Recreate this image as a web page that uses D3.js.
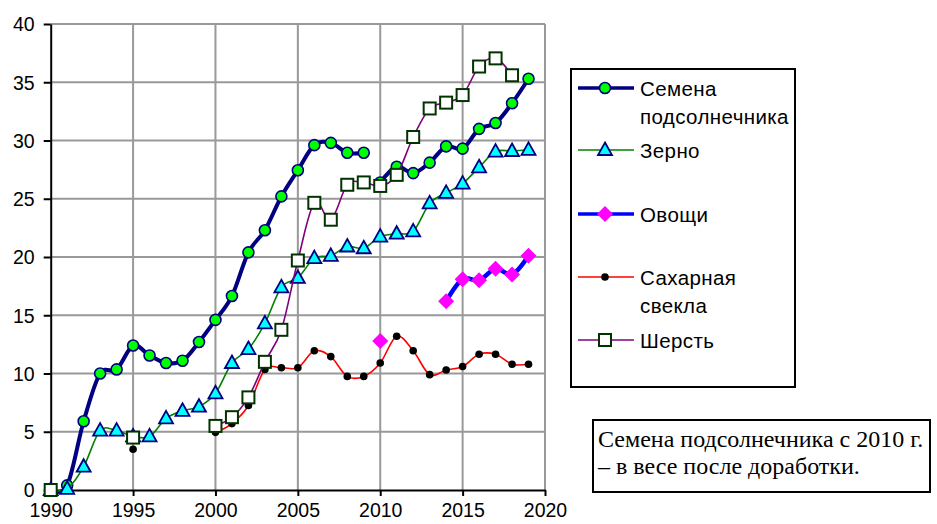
<!DOCTYPE html>
<meta charset="utf-8">
<style>
body { margin: 0; background: #fff; }
.tick text { font-family: "Liberation Sans", Arial, sans-serif; font-size: 19.5px; fill: #000; }
.legtext { font-family: "Liberation Sans", Arial, sans-serif; font-size: 20.5px; letter-spacing: 0.4px; fill: #000; }
.note { font-family: "Liberation Serif", "Times New Roman", serif; font-size: 24px; fill: #000; }
</style>
<svg width="937" height="524"></svg>
<script src="https://cdn.jsdelivr.net/npm/d3@7"></script>
<script>

var years = d3.range(1990, 2020);

// null = no value for that year
var sunflower = [0, 0.4, 5.9, 10.0, 10.35, 12.4, 11.55, 10.9, 11.1, 12.7,
                 14.6, 16.65, 20.4, 22.3, 25.2, 27.45, 29.6, 29.8, 28.95, 28.95,
                 null, null, null, null, null, null, null, null, null, null];
// after 2010 - weight after processing
var sunflower2 = [null, null, null, null, null, null, null, null, null, null,
                  null, null, null, null, null, null, null, null, null, null,
                  26.4, 27.75, 27.2, 28.1, 29.5, 29.3, 31.0, 31.5, 33.2, 35.3];
var grain = [0, 0.1, 2.0, 5.1, 5.1, 4.6, 4.6, 6.15, 6.8, 7.15,
             8.3, 10.9, 12.1, 14.3, 17.4, 18.2, 19.9, 20.1, 20.9, 20.75,
             21.75, 22.0, 22.2, 24.6, 25.5, 26.3, 27.7, 29.05, 29.1, 29.2];
var vegetables = [null, null, null, null, null, null, null, null, null, null,
                  null, null, null, null, null, null, null, null, null, null,
                  12.8, null, null, null, 16.2, 18.1, 18.0, 19.0, 18.5, 20.1];
var sugarbeet = [null, null, null, null, null, 3.5, null, null, null, null,
                 4.95, 5.7, 7.25, 10.35, 10.5, 10.5, 11.95, 11.45, 9.75, 9.75,
                 10.9, 13.2, 11.95, 9.9, 10.3, 10.6, 11.65, 11.65, 10.8, 10.8];
var wool = [0, null, null, null, null, 4.5, null, null, null, null,
            5.5, 6.25, 7.95, 11.0, 13.75, 19.7, 24.65, 23.2, 26.2, 26.4,
            26.1, 27.05, 30.3, 32.75, 33.25, 33.9, 36.35, 37.05, 35.6, null];

var xTicks = [1990, 1995, 2000, 2005, 2010, 2015, 2020];
var yTicks = [0, 5, 10, 15, 20, 25, 30, 35, 40];

var legendNames = [["Семена", "подсолнечника"], ["Зерно"], ["Овощи"], ["Сахарная", "свекла"], ["Шерсть"]];
var noteLines = ["Семена подсолнечника с 2010 г.", "– в весе после доработки."];

var svg = d3.select("svg");

var x = d3.scaleLinear().domain([1990, 2020]).range([50.7, 545]);
var y = d3.scaleLinear().domain([0, 40]).range([490, 24]);

// grid
svg.append("g")
    .selectAll("line.v")
    .data(xTicks.slice(1))
    .enter().append("line")
    .attr("x1", function(d) { return x(d); })
    .attr("x2", function(d) { return x(d); })
    .attr("y1", y(0)).attr("y2", y(40))
    .attr("stroke", "#999").attr("stroke-width", 2);
svg.append("g")
    .selectAll("line.h")
    .data(yTicks.slice(1))
    .enter().append("line")
    .attr("x1", x(1990)).attr("x2", x(2020))
    .attr("y1", function(d) { return y(d); })
    .attr("y2", function(d) { return y(d); })
    .attr("stroke", "#999").attr("stroke-width", 2);

// axes
var xAxis = svg.append("g")
    .attr("transform", "translate(0," + y(0) + ")")
    .call(d3.axisBottom(x).tickValues(xTicks).tickFormat(d3.format("d")).tickSize(6).tickSizeOuter(0));
var yAxis = svg.append("g")
    .attr("transform", "translate(" + x(1990) + ",0)")
    .call(d3.axisLeft(y).tickValues(yTicks).tickSize(7).tickSizeOuter(0));
[xAxis, yAxis].forEach(function(a) {
  a.select(".domain").attr("stroke", "#000").attr("stroke-width", 2);
  a.selectAll(".tick line").attr("stroke", "#000").attr("stroke-width", 2);
});
xAxis.selectAll(".tick text").attr("y", 8).attr("dy", "0.95em");
yAxis.selectAll(".tick text").attr("dy", "0.35em").attr("x", -16);

function pts(arr) {
  return arr.map(function(v, i) { return { year: years[i], v: v }; });
}

var line = d3.line()
    .defined(function(d) { return d.v !== null; })
    .x(function(d) { return x(d.year); })
    .y(function(d) { return y(d.v); })
    .curve(d3.curveCatmullRom.alpha(0));

var series = [
  { data: sunflower,  color: "#000080", width: 4,   marker: "circle" },
  { data: sunflower2, color: "#000080", width: 4,   marker: "circle" },
  { data: grain,      color: "#008000", width: 1.6, marker: "triangle" },
  { data: vegetables, color: "#0000ff", width: 4.5, marker: "diamond" },
  { data: sugarbeet,  color: "#ff0000", width: 1.6, marker: "dot" },
  { data: wool,       color: "#800080", width: 1.6, marker: "square" }
];

function drawMarker(g, type, cx, cy) {
  if (type === "circle") {
    g.append("circle").attr("cx", cx).attr("cy", cy).attr("r", 5.5)
      .attr("fill", "#00ff00").attr("stroke", "#000080").attr("stroke-width", 1.6);
  } else if (type === "triangle") {
    g.append("path").attr("transform", "translate(" + cx + "," + cy + ")")
      .attr("d", "M0,-7.5L7,5L-7,5Z")
      .attr("fill", "#00ffff").attr("stroke", "#000080").attr("stroke-width", 1.8);
  } else if (type === "diamond") {
    g.append("path").attr("transform", "translate(" + cx + "," + cy + ")")
      .attr("d", "M0,-8L8,0L0,8L-8,0Z").attr("fill", "#ff00ff");
  } else if (type === "dot") {
    g.append("circle").attr("cx", cx).attr("cy", cy).attr("r", 3.8).attr("fill", "#000");
  } else if (type === "square") {
    g.append("rect").attr("x", cx - 6).attr("y", cy - 6).attr("width", 12).attr("height", 12)
      .attr("fill", "#fff").attr("stroke", "#003300").attr("stroke-width", 2);
  }
}

series.forEach(function(s) {
  var g = svg.append("g");
  g.append("path").datum(pts(s.data))
    .attr("d", line)
    .attr("fill", "none")
    .attr("stroke", s.color)
    .attr("stroke-width", s.width)
    .attr("stroke-linejoin", "round");
  pts(s.data).forEach(function(d) {
    if (d.v !== null) drawMarker(g, s.marker, x(d.year), y(d.v));
  });
});

// legend
var leg = svg.append("g");
leg.append("rect").attr("x", 571).attr("y", 69).attr("width", 224).attr("height", 318)
  .attr("fill", "#fff").attr("stroke", "#000").attr("stroke-width", 2);
var legY = [88, 150, 214, 277, 340];
var legSeries = [series[0], series[2], series[3], series[4], series[5]];
legSeries.forEach(function(s, i) {
  leg.append("line").attr("x1", 578).attr("x2", 634)
    .attr("y1", legY[i]).attr("y2", legY[i])
    .attr("stroke", s.color).attr("stroke-width", s.width > 3 ? 3.5 : 1.6);
  drawMarker(leg, s.marker, 605, legY[i]);
  legendNames[i].forEach(function(t, j) {
    leg.append("text").attr("class", "legtext")
      .attr("x", 640).attr("y", legY[i] + 7.5 + j * 28).text(t);
  });
});

// note
svg.append("rect").attr("x", 593).attr("y", 420).attr("width", 337).attr("height", 72)
  .attr("fill", "#fff").attr("stroke", "#000").attr("stroke-width", 2);
noteLines.forEach(function(t, i) {
  svg.append("text").attr("class", "note").attr("x", 598).attr("y", 447 + i * 27).text(t);
});

</script>
